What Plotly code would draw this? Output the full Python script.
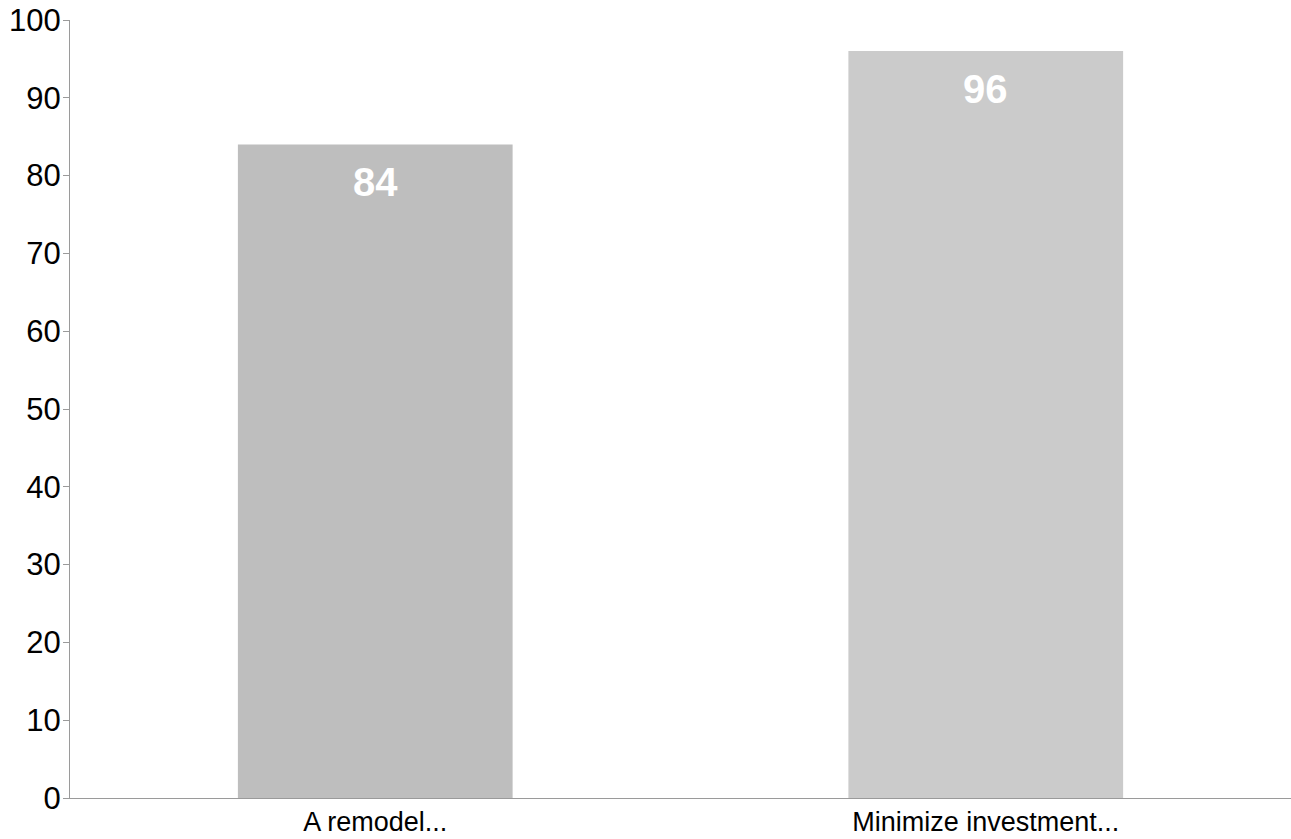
import plotly.graph_objects as go

categories = ["A remodel...", "Minimize investment..."]
values = [84, 96]
labels = ["84", "96"]
bar_colors = ["#bebebe", "#cbcbcb"]
y_ticks = [0, 10, 20, 30, 40, 50, 60, 70, 80, 90, 100]

fig = go.Figure()
fig.add_trace(go.Bar(
    x=categories,
    y=values,
    marker=dict(color=bar_colors, line=dict(width=0)),
    hoverinfo="skip",
))

for c, v, t in zip(categories, values, labels):
    fig.add_annotation(
        x=c, y=v, text="<b>%s</b>" % t, showarrow=False,
        yanchor="top", yshift=-14,
        font=dict(family="Liberation Sans, Arial, sans-serif", size=40, color="white"),
    )

fig.update_layout(
    width=1291,
    height=839,
    margin=dict(l=70, r=0, t=20, b=41),
    paper_bgcolor="white",
    plot_bgcolor="white",
    bargap=0.55,
    showlegend=False,
    font=dict(family="Liberation Sans, Arial, sans-serif", color="black"),
    xaxis=dict(
        showline=True, linecolor="#9a9a9a", linewidth=1,
        showgrid=False, ticks="", zeroline=False,
        tickfont=dict(size=27, color="black"),
        range=[-0.5, 1.5],
        automargin=False,
    ),
    yaxis=dict(
        range=[0, 100],
        tickvals=y_ticks,
        showline=True, linecolor="#9a9a9a", linewidth=1,
        showgrid=False, zeroline=False,
        ticks="outside", ticklen=6, tickcolor="#9a9a9a", tickwidth=1,
        tickfont=dict(size=31, color="black"),
        ticklabelstandoff=-4,
        ticklabeloverflow="allow",
        automargin=False,
    ),
)

fig.write_html(
    "out.html",
    config={"displayModeBar": False},
    post_script="document.body.style.margin='0px';document.body.style.overflow='hidden';",
)
